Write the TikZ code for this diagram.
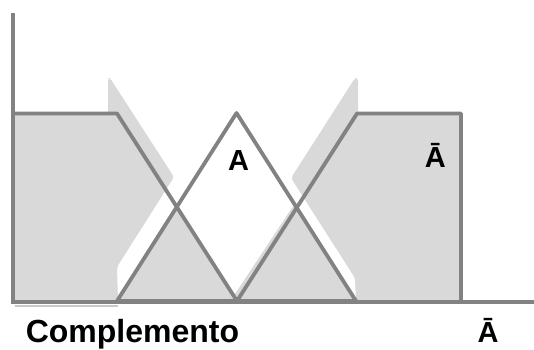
\documentclass[tikz,border=0pt]{standalone}
\usepackage{fontspec}
\setmainfont{Liberation Sans}
\usetikzlibrary{calc}
\begin{document}
\begin{tikzpicture}[x=1pt,y=-1pt,
  edge/.style={draw=linegray,line width=3.8pt,line join=round},
  axis/.style={draw=linegray,line width=3.2pt},
  shade/.style={fill=fillgray,draw=none},
  lbl/.style={inner sep=0pt,anchor=base,font=\fontsize{29}{29}\selectfont\bfseries},
  caption/.style={inner sep=0pt,anchor=base west,font=\fontsize{32}{32}\selectfont\bfseries}]
\definecolor{linegray}{RGB}{130,130,130}
\definecolor{fillgray}{RGB}{217,217,217}
\definecolor{shadowgray}{RGB}{200,200,200}
\useasboundingbox (0,0) rectangle (534,349);

% membership function A and the two arms of its complement
\coordinate (o)  at (13,302);
\coordinate (yt) at (13,13);
\coordinate (xr) at (534,302);
\coordinate (lt) at (13,113.5);
\coordinate (lk) at (117,113.5);
\coordinate (tl) at (117,301);
\coordinate (tp) at (236.5,113);
\coordinate (tm) at (237,301);
\coordinate (tr) at (356,301);
\coordinate (rk) at (357,113.5);
\coordinate (rt) at (461,113.5);
\coordinate (rb) at (461,301);
\coordinate (cl) at (intersection of lk--tm and tl--tp);
\coordinate (cr) at (intersection of tp--tr and tm--rk);

% shaded complement (offset shadow shapes)
\path[shade,rounded corners=3pt] (13,301) -- (lt) -- (108,113.5) -- (108,78) -- (110,78)
  -- (174,177) -- (117,267) [sharp corners] -- (118,301) -- cycle;
\path[shade,rounded corners=3pt] (rb) -- (rt) -- (358,113.5) -- (358,78) -- (355,78)
  -- (291,178) -- (355,278) [sharp corners] -- (356,301) -- cycle;
\path[shade] (tl) -- (cl) -- (tm) -- cycle;
\path[shade] (tm) -- (233,297) -- ($(cr)+(-4,-1)$) -- (cr) -- (tr) -- cycle;

% axes
\draw[shadowgray,line width=2pt] (15,305.5) -- (118,305.5);
\draw[axis] (yt) -- (o) -- (xr);

% curves
\draw[edge] (lt) -- (lk) -- (tm);
\draw[edge] (tl) -- (tp) -- (tr);
\draw[edge] (tm) -- (rk) -- (rt) -- (rb);
\draw[edge] (tl) -- (tr);

% labels
\node[lbl] (la) at (238.5,170) {A};
\node[lbl] (lna) at (435.4,167) {Ā};
\node[caption] (cap) at (25.6,342) {Complemento};
\node[lbl] (axa) at (488,342) {Ā};
\end{tikzpicture}
\end{document}
